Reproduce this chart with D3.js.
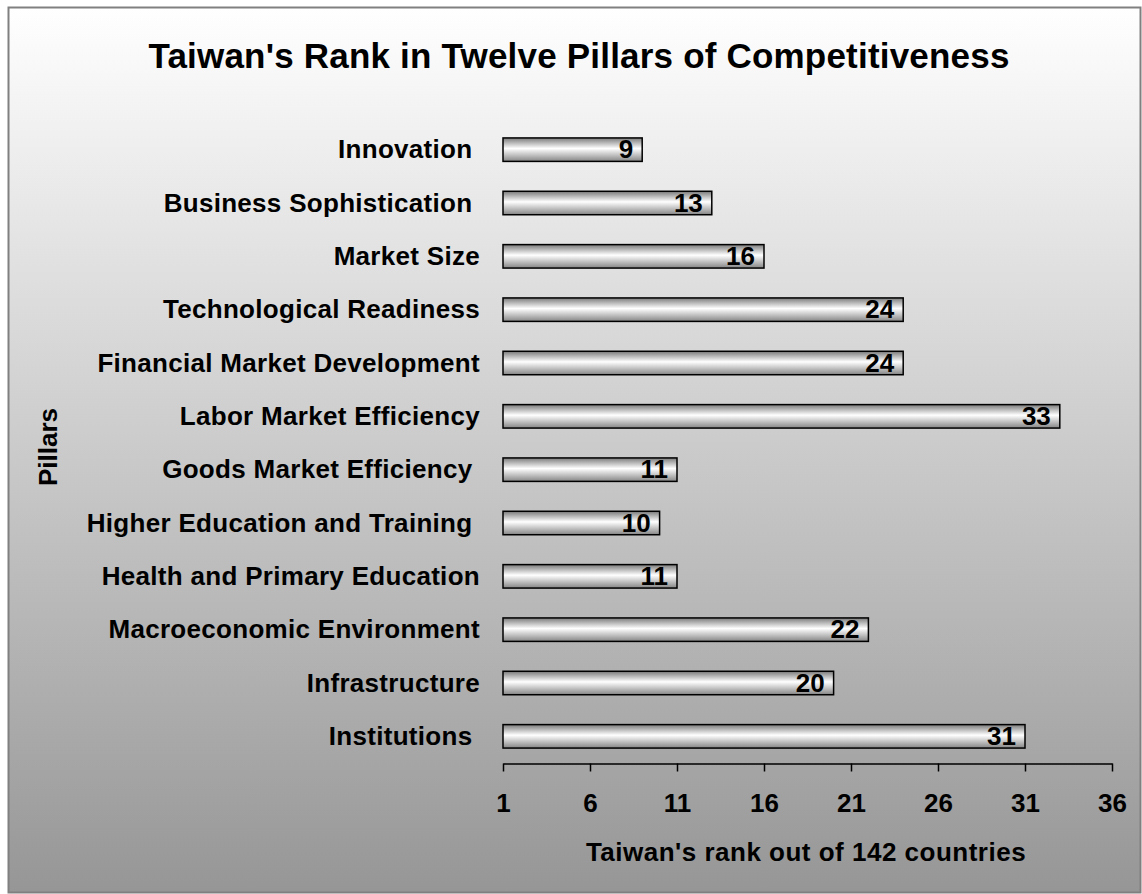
<!DOCTYPE html>
<html>
<head>
<meta charset="utf-8">
<script src="https://cdn.jsdelivr.net/npm/d3@7"></script>
<style>
  body { margin: 0; background: #fff; }
  text { font-family: "Liberation Sans", Arial, sans-serif; font-weight: bold; fill: #000; }
</style>
</head>
<body>
<svg id="chart"></svg>
<script>
// data (top to bottom)
const pillars = ["Innovation ", "Business Sophistication ", "Market Size", "Technological Readiness",
  "Financial Market Development", "Labor Market Efficiency", "Goods Market Efficiency ",
  "Higher Education and Training ", "Health and Primary Education", "Macroeconomic Environment",
  "Infrastructure", "Institutions "];
const ranks = [9, 13, 16, 24, 24, 33, 11, 10, 11, 22, 20, 31];
const tickValues = [1, 6, 11, 16, 21, 26, 31, 36];

const width = 1142, height = 894;
const margin = { top: 123, right: 30, bottom: 130, left: 503 };

const svg = d3.select("#chart")
  .attr("width", width)
  .attr("height", height);

const defs = svg.append("defs");
const bg = defs.append("linearGradient").attr("id", "bg")
  .attr("x1", 0).attr("y1", 0).attr("x2", 0).attr("y2", 1);
bg.append("stop").attr("offset", "0%").attr("stop-color", "#ffffff");
bg.append("stop").attr("offset", "100%").attr("stop-color", "#969696");

const barGrad = defs.append("linearGradient").attr("id", "bar")
  .attr("x1", 0).attr("y1", 0).attr("x2", 0).attr("y2", 1);
barGrad.append("stop").attr("offset", "0%").attr("stop-color", "#7a7a7a");
barGrad.append("stop").attr("offset", "45%").attr("stop-color", "#ffffff");
barGrad.append("stop").attr("offset", "100%").attr("stop-color", "#858585");

// chart area with frame
svg.append("rect")
  .attr("x", 8.5).attr("y", 7.5)
  .attr("width", width - 10).attr("height", height - 9)
  .attr("fill", "url(#bg)")
  .attr("stroke", "#808080")
  .attr("stroke-width", 2);

const x = d3.scaleLinear()
  .domain([1, 36])
  .range([margin.left, 1112]);

const y = d3.scaleBand()
  .domain(pillars)
  .range([margin.top, height - margin.bottom - 1])
  .paddingInner(0.56)
  .paddingOuter(0.28);

// bars
svg.selectAll(".bar")
  .data(pillars)
  .join("rect")
    .attr("class", "bar")
    .attr("x", x(1))
    .attr("y", d => y(d))
    .attr("width", (d, i) => x(ranks[i]) - x(1))
    .attr("height", y.bandwidth())
    .attr("fill", "url(#bar)")
    .attr("stroke", "#000")
    .attr("stroke-width", 1.5);

// value labels at the end of each bar
svg.selectAll(".val")
  .data(pillars)
  .join("text")
    .attr("class", "val")
    .attr("x", (d, i) => x(ranks[i]) - 9)
    .attr("y", d => y(d) + y.bandwidth() / 2)
    .attr("dy", "0.33em")
    .attr("text-anchor", "end")
    .style("font-size", "26px")
    .text((d, i) => ranks[i]);

// category labels
svg.selectAll(".cat")
  .data(pillars)
  .join("text")
    .attr("class", "cat")
    .attr("x", 480)
    .attr("y", d => y(d) + y.bandwidth() / 2)
    .attr("dy", "0.33em")
    .attr("text-anchor", "end")
    .attr("xml:space", "preserve")
    .style("white-space", "pre")
    .style("font-size", "26px")
    .style("letter-spacing", "0.3px")
    .text(d => d);

// x axis
const axisY = 763.5;
const xAxis = svg.append("g")
  .attr("transform", `translate(0,${axisY})`)
  .call(d3.axisBottom(x).tickValues(tickValues).tickSize(8).tickSizeOuter(0).tickPadding(22));
xAxis.select(".domain").attr("stroke", "#000").attr("stroke-width", 1.5);
xAxis.selectAll(".tick line").attr("stroke", "#000").attr("stroke-width", 1.5);
xAxis.selectAll(".tick text")
  .style("font-family", "'Liberation Sans', Arial, sans-serif")
  .style("font-weight", "bold")
  .style("font-size", "26px");

// titles
svg.append("text")
  .attr("x", 579).attr("y", 68)
  .attr("text-anchor", "middle")
  .style("font-size", "35px")
  .style("letter-spacing", "0.2px")
  .text("Taiwan's Rank in Twelve Pillars of Competitiveness");

svg.append("text")
  .attr("x", 806).attr("y", 861)
  .attr("text-anchor", "middle")
  .style("font-size", "26px")
  .style("letter-spacing", "0.5px")
  .text("Taiwan's rank out of 142 countries");

svg.append("text")
  .attr("transform", "translate(57,447) rotate(-90)")
  .attr("text-anchor", "middle")
  .style("font-size", "26px")
  .text("Pillars");
</script>
</body>
</html>
